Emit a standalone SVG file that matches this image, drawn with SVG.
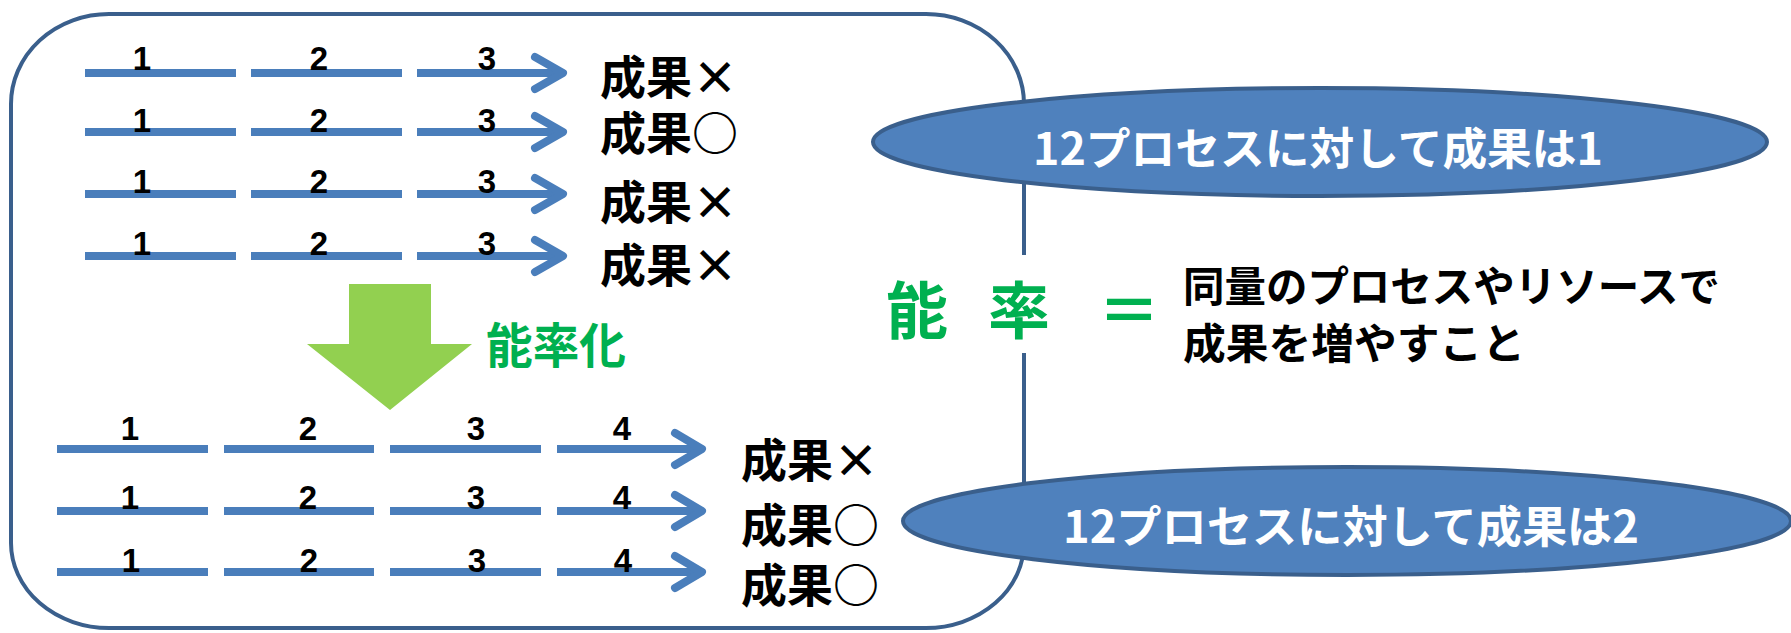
<svg xmlns="http://www.w3.org/2000/svg" xmlns:xlink="http://www.w3.org/1999/xlink" width="1791" height="633" viewBox="0 0 1791 633">
<style>
.seg{stroke:#4A7EBB;stroke-width:8;fill:none}
.chev{stroke:#4A7EBB;stroke-width:8;fill:none;stroke-linecap:round;stroke-linejoin:round}
.num{font-family:'Liberation Sans Narrow','Liberation Sans',sans-serif;font-weight:700;font-size:33px;fill:#000;text-anchor:middle}
.res{font-family:'Noto Sans CJK JP',sans-serif;font-weight:700;font-size:46px;fill:#000}
.ell{fill:#4F81BD;stroke:#3A5F8C;stroke-width:4}
.etxt{font-family:'Noto Sans CJK JP',sans-serif;font-weight:700;font-size:44px;fill:#fff}
.grn{font-family:'Noto Sans CJK JP',sans-serif;font-weight:700;fill:#00B050}
.blk{font-family:'Noto Sans CJK JP',sans-serif;font-weight:700;font-size:42px;fill:#000}
</style>
<defs>
<g id="rowA">
<line class="seg" x1="85" y1="0" x2="236" y2="0"/>
<line class="seg" x1="251" y1="0" x2="402" y2="0"/>
<line class="seg" x1="417" y1="0" x2="561" y2="0"/>
<polyline class="chev" points="535,-16 563,0 535,16"/>
</g>
<g id="rowB">
<line class="seg" x1="57" y1="0" x2="208" y2="0"/>
<line class="seg" x1="224" y1="0" x2="374" y2="0"/>
<line class="seg" x1="390" y1="0" x2="541" y2="0"/>
<line class="seg" x1="557" y1="0" x2="700" y2="0"/>
<polyline class="chev" points="675,-16 702,0 675,16"/>
</g>
</defs>
<rect width="1791" height="633" fill="#fff"/>
<g id="frame">
<path d="M1024,353 L1024,543 A98,85 0 0 1 926,628 L109,628 A98,85 0 0 1 11,543 L11,104 A98,90 0 0 1 109,14 L926,14 A98,90 0 0 1 1024,104 L1024,255" fill="none" stroke="#3A5F8C" stroke-width="4"/>
</g>
<g id="connectors">
<use xlink:href="#rowA" y="73"/>
<use xlink:href="#rowA" y="132"/>
<use xlink:href="#rowA" y="194"/>
<use xlink:href="#rowA" y="256"/>
<use xlink:href="#rowB" y="449"/>
<use xlink:href="#rowB" y="511"/>
<use xlink:href="#rowB" y="572"/>
<path id="down-arrow" d="M349,284 L431,284 L431,344 L472,344 L390,410 L307,344 L349,344 Z" fill="#92D050"/>
</g>
<g id="before-numbers">
<text class="num" x="142" y="70">1</text><text class="num" x="319" y="70">2</text><text class="num" x="487" y="70">3</text>
<text class="num" x="142" y="132">1</text><text class="num" x="319" y="132">2</text><text class="num" x="487" y="132">3</text>
<text class="num" x="142" y="193">1</text><text class="num" x="319" y="193">2</text><text class="num" x="487" y="193">3</text>
<text class="num" x="142" y="255">1</text><text class="num" x="319" y="255">2</text><text class="num" x="487" y="255">3</text>
</g>
<g id="before-results">
<text class="res" x="600" y="94">成果×</text>
<text class="res" x="600" y="150">成果○</text>
<text class="res" x="600" y="219">成果×</text>
<text class="res" x="600" y="282">成果×</text>
</g>
<g id="label-efficiency">
<text class="grn" x="486" y="363" font-size="48" textLength="140" lengthAdjust="spacingAndGlyphs">能率化</text>
</g>
<g id="after-numbers">
<text class="num" x="130" y="440">1</text><text class="num" x="308" y="440">2</text><text class="num" x="476" y="440">3</text><text class="num" x="622" y="440">4</text>
<text class="num" x="130" y="509">1</text><text class="num" x="308" y="509">2</text><text class="num" x="476" y="509">3</text><text class="num" x="622" y="509">4</text>
<text class="num" x="131" y="572">1</text><text class="num" x="309" y="572">2</text><text class="num" x="477" y="572">3</text><text class="num" x="623" y="572">4</text>
</g>
<g id="after-results">
<text class="res" x="741" y="477">成果×</text>
<text class="res" x="741" y="542">成果○</text>
<text class="res" x="741" y="602">成果○</text>
</g>
<g id="ellipse-1">
<ellipse class="ell" cx="1320" cy="142" rx="447" ry="54"/>
<text class="etxt" x="1033" y="165" textLength="570" lengthAdjust="spacingAndGlyphs">12プロセスに対して成果は1</text>
</g>
<g id="ellipse-2">
<ellipse class="ell" cx="1347" cy="521" rx="444" ry="54"/>
<text class="etxt" x="1063" y="543" textLength="576" lengthAdjust="spacingAndGlyphs">12プロセスに対して成果は2</text>
</g>
<g id="definition">
<text class="grn" y="334" font-size="62"><tspan x="886">能</tspan><tspan x="988">率</tspan><tspan x="1098">＝</tspan></text>
<text class="blk" x="1183" y="302" textLength="537" lengthAdjust="spacingAndGlyphs">同量のプロセスやリソースで</text>
<text class="blk" x="1183" y="359" textLength="342" lengthAdjust="spacingAndGlyphs">成果を増やすこと</text>
</g>
</svg>
